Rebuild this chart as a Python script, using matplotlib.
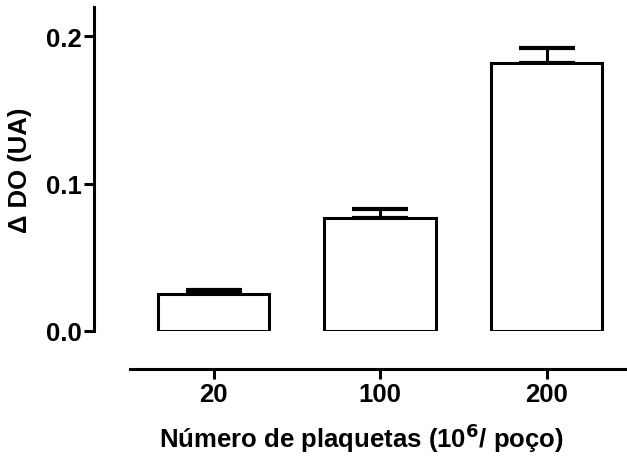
import matplotlib.pyplot as plt

plt.rcParams['font.family'] = ['Liberation Sans', 'DejaVu Sans']
plt.rcParams['font.weight'] = 'bold'

# dados
categorias = ["20", "100", "200"]
media = [0.025, 0.0766, 0.1817]
erro = [0.003, 0.0061, 0.0108]

fig = plt.figure(figsize=(6.27, 4.6), dpi=100)
ax = fig.add_axes([94 / 627, 128 / 460, 535.75 / 627, 324 / 460])

x = list(range(len(categorias)))
ax.bar(x, media, width=0.667, color="white", edgecolor="black", linewidth=2.2, zorder=2)
ax.errorbar(x, media, yerr=[[0] * len(erro), erro], fmt="none", ecolor="black",
            elinewidth=2.2, capsize=20, capthick=3, zorder=1)

ax.set_xlim(-0.718, 2.5)
ax.set_ylim(0, 0.22)
ax.set_yticks([0.0, 0.1, 0.2])
ax.set_yticklabels(["0.0", "0.1", "0.2"])
ax.set_xticks(x)
ax.set_xticklabels(categorias)

for s in ["top", "right"]:
    ax.spines[s].set_visible(False)
ax.spines["left"].set_linewidth(2.2)
ax.spines["bottom"].set_linewidth(2.2)
ax.spines["bottom"].set_position(("outward", 27))
ax.spines["bottom"].set_bounds(-0.5, 2.5)

ax.tick_params(axis="both", width=2.2, length=7, labelsize=18.5)
ax.tick_params(axis="y", pad=2)
ax.tick_params(axis="x", pad=3)

ax.set_ylabel("Δ DO (UA)", fontsize=18.5, fontweight="bold", labelpad=10)
ax.set_xlabel("Número de plaquetas (10$^\\mathbf{6}$/ poço)", fontsize=18.5,
              fontweight="bold", labelpad=10)

fig.savefig("out.png", dpi=100)
